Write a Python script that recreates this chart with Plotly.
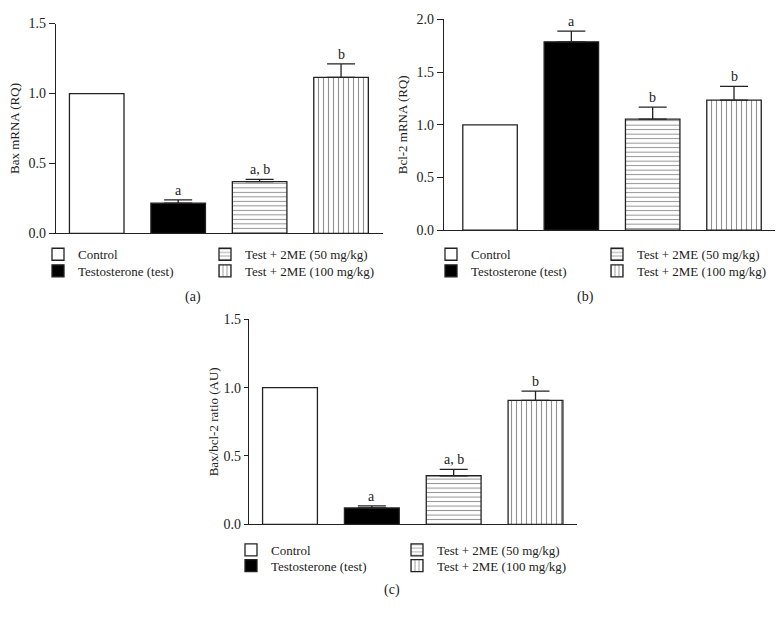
import plotly.graph_objects as go

W, H = 783, 625

groups = ["Control", "Testosterone (test)", "Test + 2ME (50 mg/kg)", "Test + 2ME (100 mg/kg)"]

bax_mean = [1.0, 0.216, 0.370, 1.116]
bax_err = [0.0, 0.024, 0.016, 0.096]
bax_letters = ["", "a", "a, b", "b"]

bcl_mean = [1.0, 1.787, 1.053, 1.235]
bcl_err = [0.0, 0.102, 0.114, 0.130]
bcl_letters = ["", "a", "b", "b"]

ratio_mean = [1.0, 0.119, 0.355, 0.907]
ratio_err = [0.0, 0.015, 0.047, 0.067]
ratio_letters = ["", "a", "a, b", "b"]

y_titles = ["Bax mRNA (RQ)", "Bcl-2 mRNA (RQ)", "Bax/bcl-2 ratio (AU)"]
panel_labels = ["(a)", "(b)", "(c)"]
y_ticks = [[0, 0.5, 1.0, 1.5], [0, 0.5, 1.0, 1.5, 2.0], [0, 0.5, 1.0, 1.5]]

INK = "#222222"
FONT = "Liberation Serif"

fills = ["white", "black", "white", "white"]
shapes = ["", "", "-", "|"]
psizes = [5, 5, 4.5, 5]


def px(sx):
    return sx / W


def py(sy):
    return 1 - sy / H


# panel geometry in screen pixels; legend positions are text-left x and row-centre y
panels = [
    dict(x0=56, x1=383, y0=17, y1=232, xr=[-0.5, 3.515], yr=[0, 1.5],
         legx=(78, 245), legy=(254, 271), lab=(193, 297), standoff=6, tl=6),
    dict(x0=444, x1=775, y0=12.7, y1=228.7, xr=[-0.566, 3.504], yr=[0, 2.0],
         legx=(471, 637), legy=(254, 271), lab=(585, 297), standoff=6, tl=6),
    dict(x0=249, x1=577, y0=320, y1=530, xr=[-0.501, 3.507], yr=[0, 1.5],
         legx=(271, 437), legy=(557, 573), lab=(392, 597), standoff=2, tl=4),
]
datasets = [(bax_mean, bax_err, bax_letters), (bcl_mean, bcl_err, bcl_letters),
            (ratio_mean, ratio_err, ratio_letters)]

fig = go.Figure()
annotations = []
layout = {}
legend_no = 1
for p, (pan, (means, errs, letters)) in enumerate(zip(panels, datasets)):
    xa = "x" if p == 0 else f"x{p+1}"
    ya = "y" if p == 0 else f"y{p+1}"
    for i, g in enumerate(groups):
        lk = "legend" if legend_no == 1 else f"legend{legend_no}"
        legend_no += 1
        fig.add_trace(go.Bar(
            x=[i], y=[means[i]], width=0.67, name=g,
            xaxis=xa, yaxis=ya, legend=lk, hoverinfo="skip",
            marker=dict(color=fills[i], line=dict(color=INK, width=1.3),
                        pattern=dict(shape=shapes[i], size=psizes[i], solidity=0.22,
                                     fgcolor=INK, bgcolor="white") if shapes[i] else None),
            error_y=dict(type="data", symmetric=False, array=[errs[i]], arrayminus=[0],
                         color=INK, thickness=1.3, width=14, visible=errs[i] > 0),
            showlegend=True,
        ))
        lx = pan["legx"][0 if i < 2 else 1]
        ly = pan["legy"][i % 2]
        layout[lk] = dict(x=px(lx - 40), y=py(ly - 16), xanchor="left", yanchor="top",
                          orientation="v", bgcolor="rgba(0,0,0,0)",
                          font=dict(size=13, family=FONT, color=INK), itemwidth=30)
        if letters[i]:
            annotations.append(dict(x=i, y=means[i] + errs[i], xref=xa, yref=ya,
                                    text=letters[i], showarrow=False, yanchor="bottom",
                                    xanchor="center", yshift=0,
                                    font=dict(size=14, family=FONT, color=INK)))
    xkey = "xaxis" if p == 0 else f"xaxis{p+1}"
    ykey = "yaxis" if p == 0 else f"yaxis{p+1}"
    layout[xkey] = dict(domain=[px(pan["x0"]), px(pan["x1"])], range=pan["xr"],
                        anchor=ya, showgrid=False, zeroline=False, showticklabels=False,
                        ticks="", showline=True, linecolor=INK, linewidth=1.2, fixedrange=True)
    layout[ykey] = dict(domain=[py(pan["y1"]), py(pan["y0"])], range=pan["yr"],
                        anchor=xa, showgrid=False, zeroline=False, tickvals=y_ticks[p],
                        tickformat=".1f", ticks="outside", ticklen=pan["tl"], tickcolor=INK,
                        tickwidth=1.2, showline=True, linecolor=INK, linewidth=1.2,
                        tickfont=dict(size=14, family=FONT, color=INK), fixedrange=True,
                        title=dict(text=y_titles[p], font=dict(size=13, family=FONT, color=INK),
                                   standoff=pan["standoff"]))
    annotations.append(dict(x=px(pan["lab"][0]), y=py(pan["lab"][1]), xref="paper",
                            yref="paper", text=panel_labels[p], showarrow=False,
                            xanchor="center", yanchor="middle",
                            font=dict(size=14, family=FONT, color=INK)))

fig.update_layout(width=W, height=H, margin=dict(l=0, r=0, t=0, b=0),
                  paper_bgcolor="white", plot_bgcolor="white", barmode="overlay",
                  hovermode=False,
                  font=dict(family=FONT, color=INK), annotations=annotations, **layout)

fig.write_html("out.html", config={"displayModeBar": False},
               post_script="document.body.style.margin='0';"
                           "document.documentElement.style.overflow='hidden';")
